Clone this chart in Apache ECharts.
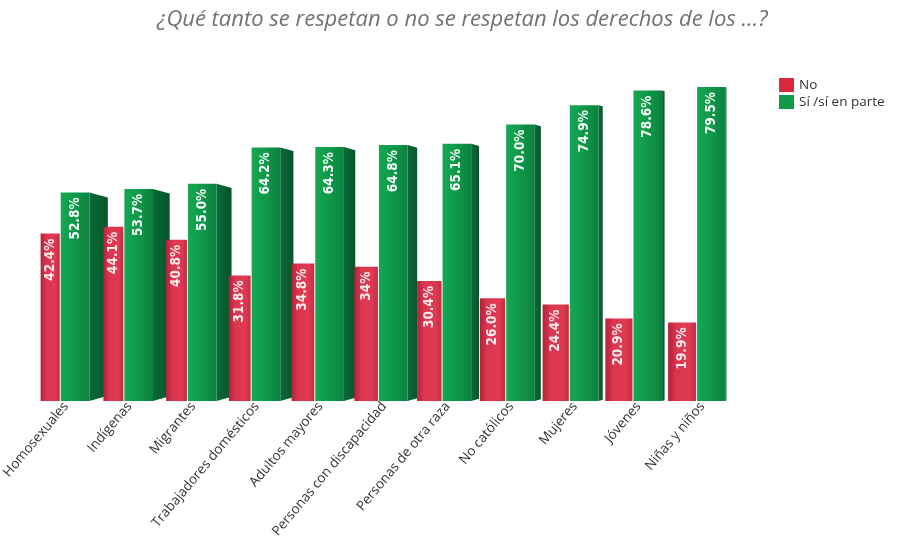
<!DOCTYPE html>
<html>
<head>
<meta charset="utf-8">
<script src="https://cdn.jsdelivr.net/npm/echarts@6/dist/echarts.min.js"></script>
<style>
  html, body { margin: 0; padding: 0; background: #ffffff; }
  #chart { width: 900px; height: 555px; }
</style>
</head>
<body>
<div id="chart"></div>
<script>
// Survey groups, in the order they are shown
const categories = [
  'Homosexuales', 'Indígenas', 'Migrantes', 'Trabajadores domésticos',
  'Adultos mayores', 'Personas con discapacidad', 'Personas de otra raza',
  'No católicos', 'Mujeres', 'Jóvenes', 'Niñas y niños'
];
// Percentages kept as printed text, so the bar label and bar height share one value
const noValues = ['42.4', '44.1', '40.8', '31.8', '34.8', '34', '30.4', '26.0', '24.4', '20.9', '19.9'];
const siValues = ['52.8', '53.7', '55.0', '64.2', '64.3', '64.8', '65.1', '70.0', '74.9', '78.6', '79.5'];
const seriesNames = ['No', 'Sí /sí en parte'];

const palettes = [
  {
    legend: '#d9283e',
    front: [[0, '#b3213a'], [0.3, '#dc3650'], [0.75, '#de3a51'], [1, '#c52b43']],
    side: [[0, '#9c1c30'], [1, '#86172a']]
  },
  {
    legend: '#0f9a4a',
    front: [[0, '#14a853'], [0.45, '#10994a'], [1, '#0b8140']],
    side: [[0, '#0a6a34'], [1, '#06552a']]
  }
];

function gradient(stops) {
  return new echarts.graphic.LinearGradient(0, 0, 1, 0, stops.map(s => ({ offset: s[0], color: s[1] })));
}

// Draws one bar of a pair: flat front face plus a receding side face on the green bar.
// The pair is nudged a little left of the category centre so the slanted tick label
// ends under the middle of the pair; the red bar narrows and the green side face
// widens toward the left to give a perspective look.
function makeRender(side) {
  const pal = palettes[side];
  const n = categories.length;
  return function (params, api) {
    const i = api.value(0);
    const v = api.value(1);
    const top = api.coord([i, v]);
    const base = api.coord([i, 0]);
    const band = api.size([1, 0])[0];
    const t = i / (n - 1);
    const split = top[0] - band * 0.08;
    const w = side === 0 ? band * (0.30 + 0.14 * t) : band * 0.45;
    const x0 = side === 0 ? split - w - 1 : split;
    const x1 = x0 + w;
    const h = base[1] - top[1];
    const depth = band * 0.29 * Math.max(0, 1 - i / (n - 0.6));
    const slant = depth * 0.28;
    const text = (side === 0 ? noValues : siValues)[params.dataIndex] + '%';
    const children = [];
    if (side === 1 && depth > 0.5) {
      children.push({
        type: 'polygon',
        shape: { points: [[x1, top[1]], [x1 + depth, top[1] + slant], [x1 + depth, base[1] - slant], [x1, base[1]]] },
        style: { fill: gradient(pal.side) }
      });
    }
    children.push({
      type: 'rect',
      shape: { x: x0, y: top[1], width: w, height: h },
      style: { fill: gradient(pal.front) }
    });
    children.push({
      type: 'text',
      x: x0 + w / 2,
      y: top[1] + 5,
      rotation: Math.PI / 2,
      style: {
        text: text,
        fill: side === 0 ? '#fbe9ec' : '#f2fbf5',
        font: 'bold 13.5px "DejaVu Sans Condensed", "DejaVu Sans", sans-serif',
        align: 'right',
        textAlign: 'right',
        verticalAlign: 'middle',
        textVerticalAlign: 'middle'
      }
    });
    return { type: 'group', children: children };
  };
}

const chart = echarts.init(document.getElementById('chart'), null, { renderer: 'canvas' });

chart.setOption({
  backgroundColor: '#ffffff',
  animation: false,
  title: {
    text: '¿Qué tanto se respetan o no se respetan los derechos de los …?',
    left: 152,
    top: 4,
    textStyle: {
      fontFamily: '"Open Sans", sans-serif',
      fontStyle: 'italic',
      fontWeight: 'normal',
      fontSize: 22,
      color: '#727272'
    }
  },
  legend: {
    orient: 'vertical',
    left: 774,
    top: 73,
    icon: 'rect',
    itemWidth: 15,
    itemHeight: 14,
    itemGap: 3,
    textStyle: { fontFamily: '"Open Sans", sans-serif', fontSize: 13.5, color: '#333333' },
    data: seriesNames
  },
  grid: { left: 34, right: 166, top: 45.5, bottom: 154, outerBoundsMode: 'none' },
  xAxis: {
    type: 'category',
    data: categories,
    axisLine: { show: false },
    axisTick: { show: false },
    axisLabel: {
      interval: 0,
      rotate: 50,
      margin: 3,
      fontFamily: '"Open Sans", sans-serif',
      fontSize: 13.5,
      color: '#333333'
    }
  },
  yAxis: {
    type: 'value',
    min: 0,
    max: 90,
    show: false,
    splitLine: { show: false }
  },
  series: [
    {
      name: seriesNames[1],
      type: 'custom',
      z: 2,
      itemStyle: { color: palettes[1].legend },
      renderItem: makeRender(1),
      encode: { x: 0, y: 1 },
      data: siValues.map((s, i) => [i, Number(s)])
    },
    {
      name: seriesNames[0],
      type: 'custom',
      z: 3,
      itemStyle: { color: palettes[0].legend },
      renderItem: makeRender(0),
      encode: { x: 0, y: 1 },
      data: noValues.map((s, i) => [i, Number(s)])
    }
  ]
});
</script>
</body>
</html>
